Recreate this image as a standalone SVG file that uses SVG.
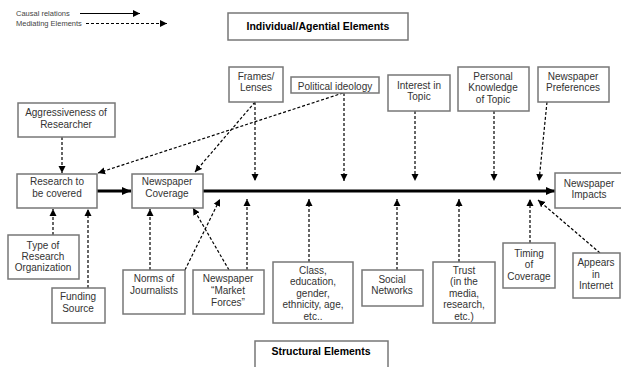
<svg xmlns="http://www.w3.org/2000/svg" width="621" height="367" viewBox="0 0 621 367">
<defs>
<marker id="ah" markerUnits="userSpaceOnUse" markerWidth="8" markerHeight="8" refX="7" refY="4" orient="auto"><path d="M0,0.5 L7,4 L0,7.5 Z" fill="#000"/></marker>
<marker id="ahb" markerUnits="userSpaceOnUse" markerWidth="10" markerHeight="10" refX="9" refY="5" orient="auto"><path d="M0,1 L9,5 L0,9 Z" fill="#000"/></marker>
<style>
rect{fill:#fff;stroke:#777;stroke-width:1.5}
text{font-family:"Liberation Sans",Arial,sans-serif;font-size:10px;fill:#333;text-anchor:middle}
.b{font-weight:bold;font-size:10.5px;fill:#000}
.lg{font-size:7.5px;text-anchor:start;fill:#444}
.d{fill:none;stroke:#000;stroke-width:1.2;stroke-dasharray:3,2;marker-end:url(#ah)}
.s{fill:none;stroke:#000;stroke-width:3;marker-end:url(#ahb)}
.l{fill:none;stroke:#000;stroke-width:1.2;marker-end:url(#ah)}
</style>
</defs>
<g id="legend">
<text class="lg" x="16" y="16">Causal relations</text>
<line class="l" x1="80" y1="13.5" x2="140" y2="13.5"/>
<text class="lg" x="16" y="26">Mediating Elements</text>
<line class="d" x1="86" y1="23.5" x2="167" y2="23.5"/>
</g>
<g id="connectors">
<line class="s" x1="97" y1="191" x2="131" y2="191"/>
<line class="s" x1="203" y1="191" x2="555" y2="191"/>
<line class="d" x1="62" y1="137" x2="62" y2="173"/>
<line class="d" x1="343" y1="93" x2="98" y2="173"/>
<line class="d" x1="255" y1="102" x2="195" y2="172"/>
<line class="d" x1="255" y1="102" x2="255" y2="181"/>
<line class="d" x1="344" y1="93" x2="344" y2="181"/>
<line class="d" x1="415" y1="111" x2="415" y2="181"/>
<line class="d" x1="494" y1="111" x2="494" y2="181"/>
<line class="d" x1="547" y1="102" x2="539" y2="181"/>
<line class="d" x1="53" y1="235" x2="53" y2="209"/>
<line class="d" x1="88" y1="288" x2="88" y2="209"/>
<line class="d" x1="150" y1="270" x2="150" y2="209"/>
<line class="d" x1="185" y1="270" x2="220" y2="199"/>
<line class="d" x1="229" y1="270" x2="193" y2="208"/>
<line class="d" x1="247" y1="270" x2="247" y2="199"/>
<line class="d" x1="309" y1="262" x2="309" y2="199"/>
<line class="d" x1="397" y1="270" x2="397" y2="199"/>
<line class="d" x1="459" y1="262" x2="459" y2="199"/>
<line class="d" x1="530" y1="243" x2="530" y2="199"/>
<line class="d" x1="600" y1="253" x2="538" y2="200"/>
</g>
<g id="individual"><rect x="228" y="13" width="180" height="27"/><text class="b" x="318" y="30">Individual/Agential Elements</text></g>
<g id="structural"><rect x="255" y="341" width="133" height="30"/><text class="b" x="321" y="355">Structural Elements</text></g>
<g id="aggressiveness"><rect x="18" y="103" width="97" height="34"/><text x="66" y="116">Aggressiveness of</text><text x="66" y="127.5">Researcher</text></g>
<g id="research"><rect x="17" y="174" width="80" height="34"/><text x="57" y="185">Research to</text><text x="57" y="197">be covered</text></g>
<g id="coverage"><rect x="132" y="174" width="71" height="34"/><text x="167" y="185">Newspaper</text><text x="167" y="197">Coverage</text></g>
<g id="impacts"><rect x="555" y="173" width="68" height="35"/><text x="589" y="186.5">Newspaper</text><text x="589" y="197.5">Impacts</text></g>
<g id="frames"><rect x="229" y="67" width="54" height="35"/><text x="256" y="79.5">Frames/</text><text x="256" y="91">Lenses</text></g>
<g id="political"><rect x="291" y="77" width="88" height="16"/><text x="335" y="89.5">Political ideology</text></g>
<g id="interest"><rect x="388" y="75" width="62" height="36"/><text x="419" y="89">Interest in</text><text x="419" y="100">Topic</text></g>
<g id="knowledge"><rect x="458" y="67" width="71" height="44"/><text x="493" y="79.5">Personal</text><text x="493" y="91">Knowledge</text><text x="493" y="102.5">of Topic</text></g>
<g id="preferences"><rect x="538" y="67" width="71" height="35"/><text x="573" y="79.5">Newspaper</text><text x="573" y="91">Preferences</text></g>
<g id="typeorg"><rect x="8" y="235" width="71" height="44"/><text x="43" y="249">Type of</text><text x="43" y="260">Research</text><text x="43" y="271">Organization</text></g>
<g id="funding"><rect x="52" y="288" width="53" height="35"/><text x="78" y="300">Funding</text><text x="78" y="312">Source</text></g>
<g id="norms"><rect x="123" y="270" width="62" height="44"/><text x="154" y="282">Norms of</text><text x="154" y="294">Journalists</text></g>
<g id="market"><rect x="193" y="270" width="71" height="44"/><text x="228" y="282">Newspaper</text><text x="228" y="294">“Market</text><text x="228" y="306">Forces”</text></g>
<g id="class"><rect x="273" y="262" width="80" height="61"/><text x="313" y="273.5">Class,</text><text x="313" y="285">education,</text><text x="313" y="296.5">gender,</text><text x="313" y="308">ethnicity, age,</text><text x="313" y="319.5">etc..</text></g>
<g id="social"><rect x="362" y="270" width="61" height="36"/><text x="392" y="282.5">Social</text><text x="392" y="294">Networks</text></g>
<g id="trust"><rect x="433" y="262" width="62" height="61"/><text x="464" y="273.5">Trust</text><text x="464" y="285">(in the</text><text x="464" y="296.5">media,</text><text x="464" y="308">research,</text><text x="464" y="319.5">etc.)</text></g>
<g id="timing"><rect x="503" y="243" width="52" height="45"/><text x="529" y="256.5">Timing</text><text x="529" y="268">of</text><text x="529" y="279.5">Coverage</text></g>
<g id="internet"><rect x="573" y="253" width="47" height="45"/><text x="596" y="266">Appears</text><text x="596" y="277.5">in</text><text x="596" y="289">Internet</text></g>
</svg>
